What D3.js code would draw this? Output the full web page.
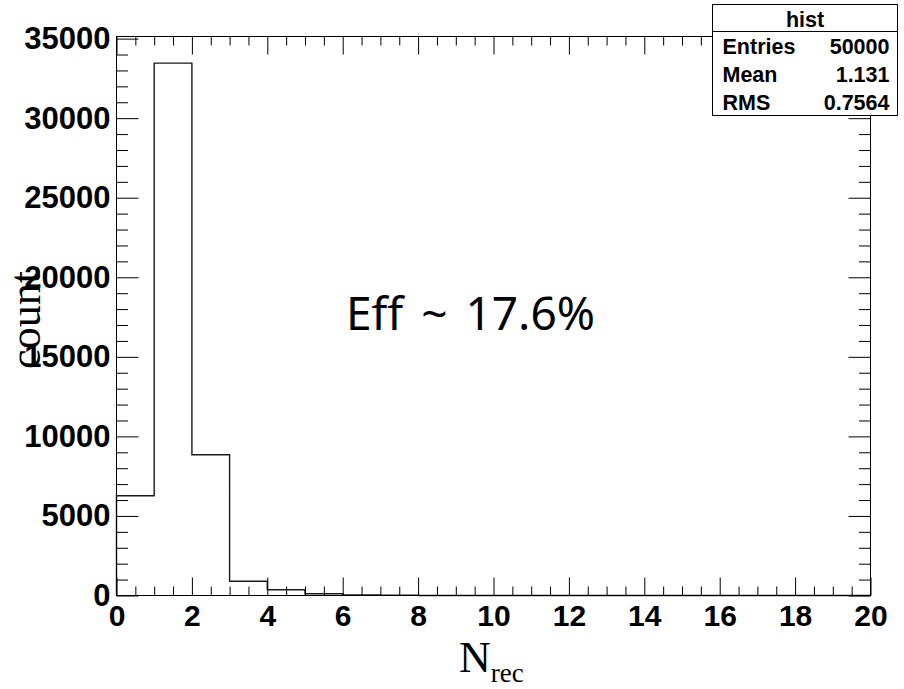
<!DOCTYPE html>
<html>
<head>
<meta charset="utf-8">
<script src="https://cdn.jsdelivr.net/npm/d3@7"></script>
<style>
  html, body { margin: 0; padding: 0; background: #fff; }
  svg { display: block; }
</style>
</head>
<body>
<svg id="chart" width="904" height="689"></svg>
<script>
// Histogram of reconstructed multiplicity, 20 unit-width bins on [0, 20)
const binEdges = d3.range(0, 21);               // 0 .. 20
const counts = [6270, 33460, 8850, 900, 360, 110, 35, 15,
                0, 0, 0, 0, 0, 0, 0, 0, 0, 0, 0, 0];
const xTickValues = [0, 2, 4, 6, 8, 10, 12, 14, 16, 18, 20];
const yTickValues = [0, 5000, 10000, 15000, 20000, 25000, 30000, 35000];
const statLabels = ["Entries", "Mean", "RMS"];
const statValues = ["50000", "1.131", "0.7564"];
const histName = "hist";
const annotation = "Eff ~ 17.6%";

const svg = d3.select("#chart");
const W = 904, H = 689;
const frame = { left: 116.5, right: 870.5, top: 36.5, bottom: 595.5 };

svg.append("rect").attr("width", W).attr("height", H).attr("fill", "#fff");

const x = d3.scaleLinear().domain([0, 20]).range([frame.left, frame.right]);
const yMax = d3.max(counts) * 1.05;
const y = d3.scaleLinear().domain([0, yMax]).range([frame.bottom, frame.top]);

const labelFont = "'Liberation Sans', Arial, sans-serif";
const serif = "'Liberation Serif', 'Times New Roman', serif";

// Histogram outline (step)
const pts = [[0, 0]].concat(counts.map((c, i) => [binEdges[i], c]))
  .concat([[20, counts[counts.length - 1]], [20, 0]]);
const line = d3.line().x(d => x(d[0])).y(d => y(d[1])).curve(d3.curveStepAfter);
svg.append("path")
  .attr("d", line(pts))
  .attr("fill", "none")
  .attr("stroke", "#1a1a1a")
  .attr("stroke-width", 1.4);

// Axes: ticks pointing into the frame on all four sides
function styleAxis(g) {
  g.select(".domain").remove();
  g.selectAll(".tick line").attr("stroke", "#000").attr("stroke-width", 1);
}

const xMinor = d3.range(0, 20.001, 0.5).filter(v => v % 2 !== 0);
const yMinor = d3.range(0, yMax, 1000).filter(v => v % 5000 !== 0);

// bottom
svg.append("g").attr("transform", `translate(0,${frame.bottom})`)
  .call(d3.axisBottom(x).tickValues(xMinor).tickSize(-9).tickFormat(""))
  .call(styleAxis);
const xAx = svg.append("g").attr("transform", `translate(0,${frame.bottom})`)
  .call(d3.axisBottom(x).tickValues(xTickValues).tickSize(-18).tickPadding(9).tickFormat(d3.format("d")))
  .call(styleAxis);
xAx.selectAll(".tick text")
  .attr("font-family", labelFont).attr("font-weight", "bold")
  .attr("font-size", 30).attr("fill", "#000");

// top
svg.append("g").attr("transform", `translate(0,${frame.top})`)
  .call(d3.axisTop(x).tickValues(xMinor).tickSize(-9).tickFormat(""))
  .call(styleAxis);
svg.append("g").attr("transform", `translate(0,${frame.top})`)
  .call(d3.axisTop(x).tickValues(xTickValues).tickSize(-18).tickFormat(""))
  .call(styleAxis);

// left
svg.append("g").attr("transform", `translate(${frame.left},0)`)
  .call(d3.axisLeft(y).tickValues(yMinor).tickSize(-11.5).tickFormat(""))
  .call(styleAxis);
const yAx = svg.append("g").attr("transform", `translate(${frame.left},0)`)
  .call(d3.axisLeft(y).tickValues(yTickValues).tickSize(-22).tickPadding(6).tickFormat(d3.format("d")))
  .call(styleAxis);
yAx.selectAll(".tick text")
  .attr("font-family", labelFont).attr("font-weight", "bold")
  .attr("font-size", 31).attr("fill", "#000");

// right
svg.append("g").attr("transform", `translate(${frame.right},0)`)
  .call(d3.axisRight(y).tickValues(yMinor).tickSize(-11.5).tickFormat(""))
  .call(styleAxis);
svg.append("g").attr("transform", `translate(${frame.right},0)`)
  .call(d3.axisRight(y).tickValues(yTickValues).tickSize(-22).tickFormat(""))
  .call(styleAxis);

// frame
svg.append("rect")
  .attr("x", frame.left).attr("y", frame.top)
  .attr("width", frame.right - frame.left).attr("height", frame.bottom - frame.top)
  .attr("fill", "none").attr("stroke", "#000").attr("stroke-width", 1);

// axis titles
const xt = svg.append("text")
  .attr("x", 459).attr("y", 672)
  .attr("font-family", serif).attr("font-size", 44).attr("fill", "#000");
xt.append("tspan").text("N");
xt.append("tspan").attr("font-size", 27).attr("dy", 10).text("rec");

svg.append("text")
  .attr("transform", "translate(40,320) rotate(-90)")
  .attr("text-anchor", "middle")
  .attr("font-family", serif).attr("font-size", 44).attr("fill", "#000")
  .text("count");

// annotation
svg.append("text")
  .attr("x", 346).attr("y", 330)
  .attr("font-family", "'Noto Sans', 'Open Sans', sans-serif")
  .attr("font-size", 46).attr("word-spacing", 6).attr("fill", "#000")
  .text(annotation);

// statistics box
const box = { x: 712.5, y: 4.5, w: 185, h: 111 };
svg.append("rect")
  .attr("x", box.x).attr("y", box.y).attr("width", box.w).attr("height", box.h)
  .attr("fill", "#fff").attr("stroke", "#000").attr("stroke-width", 1);
svg.append("line")
  .attr("x1", box.x).attr("x2", box.x + box.w)
  .attr("y1", 31.5).attr("y2", 31.5)
  .attr("stroke", "#000").attr("stroke-width", 1);
svg.append("text")
  .attr("x", box.x + box.w / 2).attr("y", 26.5)
  .attr("text-anchor", "middle")
  .attr("font-family", labelFont).attr("font-weight", "bold")
  .attr("font-size", 21.5).attr("fill", "#000")
  .text(histName);
const rowY = [53.5, 82, 110];
statLabels.forEach((lab, i) => {
  svg.append("text")
    .attr("x", 722.5).attr("y", rowY[i])
    .attr("font-family", labelFont).attr("font-weight", "bold")
    .attr("font-size", 21.5).attr("fill", "#000")
    .text(lab);
  svg.append("text")
    .attr("x", 889.5).attr("y", rowY[i])
    .attr("text-anchor", "end")
    .attr("font-family", labelFont).attr("font-weight", "bold")
    .attr("font-size", 21.5).attr("fill", "#000")
    .text(statValues[i]);
});
</script>
</body>
</html>
